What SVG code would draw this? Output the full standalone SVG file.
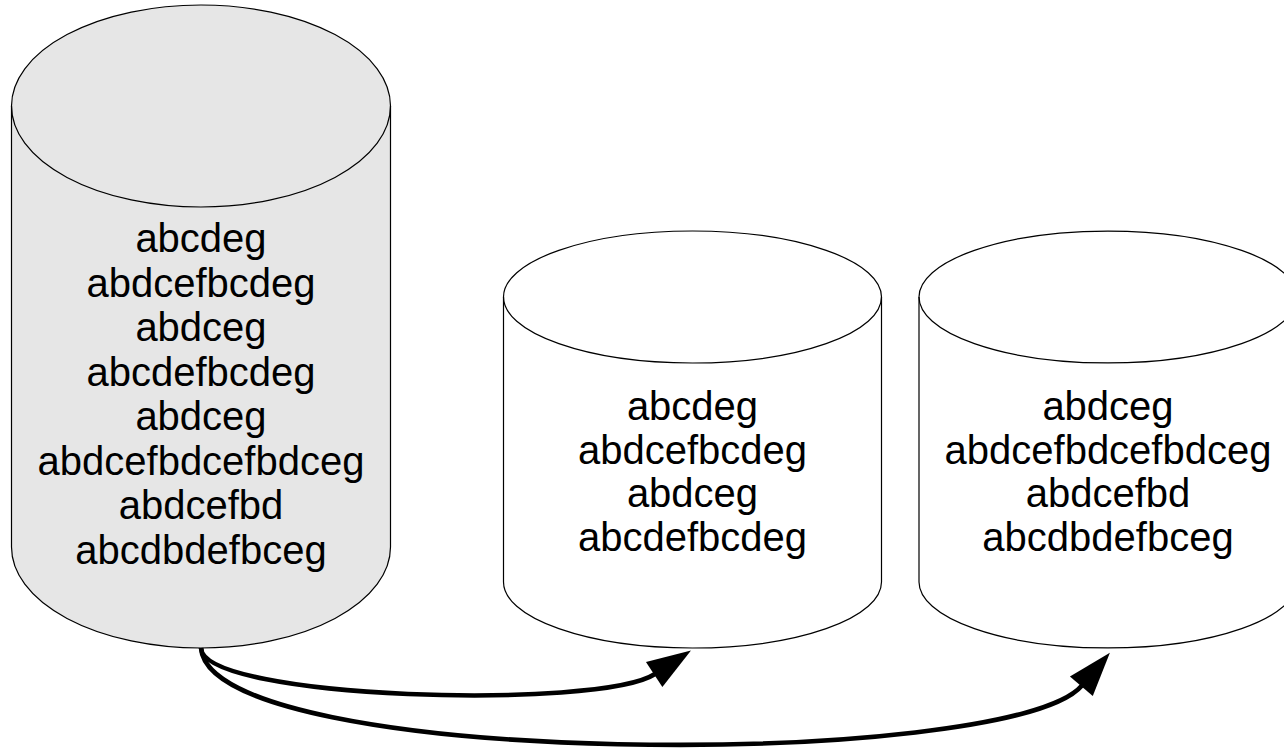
<svg xmlns="http://www.w3.org/2000/svg" width="1284" height="749" viewBox="0 0 1284 749">
<style>
.cyl{stroke:#000;stroke-width:1.2}
.grey{fill:#e6e6e6}
.white{fill:#fff}
.lbl{font-family:"Liberation Sans",Arial,sans-serif;font-size:40px;fill:#000;text-anchor:middle}
.conn{fill:none;stroke:#000;stroke-width:4.6}
</style>
<defs>
<marker id="arrow" markerUnits="userSpaceOnUse" markerWidth="50" markerHeight="34" refX="1" refY="15" orient="auto" overflow="visible">
<path d="M0,0 L44,15 L0,30 z" fill="#000"/>
</marker>
</defs>
<rect width="1284" height="749" fill="#fff"/>
<g id="db1">
<path class="cyl grey" d="M11.5,106 A189.5,101 0 0 1 390.5,106 L390.5,547 A189.5,101 0 0 1 11.5,547 Z"/>
<path class="cyl" fill="none" d="M11.5,106 A189.5,101 0 0 0 390.5,106"/>
<text class="lbl" x="201" y="252">abcdeg</text>
<text class="lbl" x="201" y="296.5">abdcefbcdeg</text>
<text class="lbl" x="201" y="341">abdceg</text>
<text class="lbl" x="201" y="385.5">abcdefbcdeg</text>
<text class="lbl" x="201" y="430">abdceg</text>
<text class="lbl" x="201" y="474.5">abdcefbdcefbdceg</text>
<text class="lbl" x="201" y="519">abdcefbd</text>
<text class="lbl" x="201" y="563.5">abcdbdefbceg</text>
</g>
<g id="db2">
<path class="cyl white" d="M503.5,297 A189,66 0 0 1 881.5,297 L881.5,582 A189,66 0 0 1 503.5,582 Z"/>
<path class="cyl" fill="none" d="M503.5,297 A189,66 0 0 0 881.5,297"/>
<text class="lbl" x="692.5" y="420">abcdeg</text>
<text class="lbl" x="692.5" y="463.5">abdcefbcdeg</text>
<text class="lbl" x="692.5" y="507">abdceg</text>
<text class="lbl" x="692.5" y="550.5">abcdefbcdeg</text>
</g>
<g id="db3">
<path class="cyl white" d="M919,297 A189,66 0 0 1 1297,297 L1297,582 A189,66 0 0 1 919,582 Z"/>
<path class="cyl" fill="none" d="M919,297 A189,66 0 0 0 1297,297"/>
<text class="lbl" x="1108" y="420">abdceg</text>
<text class="lbl" x="1108" y="463.5">abdcefbdcefbdceg</text>
<text class="lbl" x="1108" y="507">abdcefbd</text>
<text class="lbl" x="1108" y="550.5">abcdbdefbceg</text>
</g>
<g id="connectors">
<path class="conn" marker-end="url(#arrow)" d="M201,648 C203,700 600,710 655,674"/>
<path class="conn" marker-end="url(#arrow)" d="M201,648 C210,770 1010,770 1082,685.5"/>
</g>
</svg>
